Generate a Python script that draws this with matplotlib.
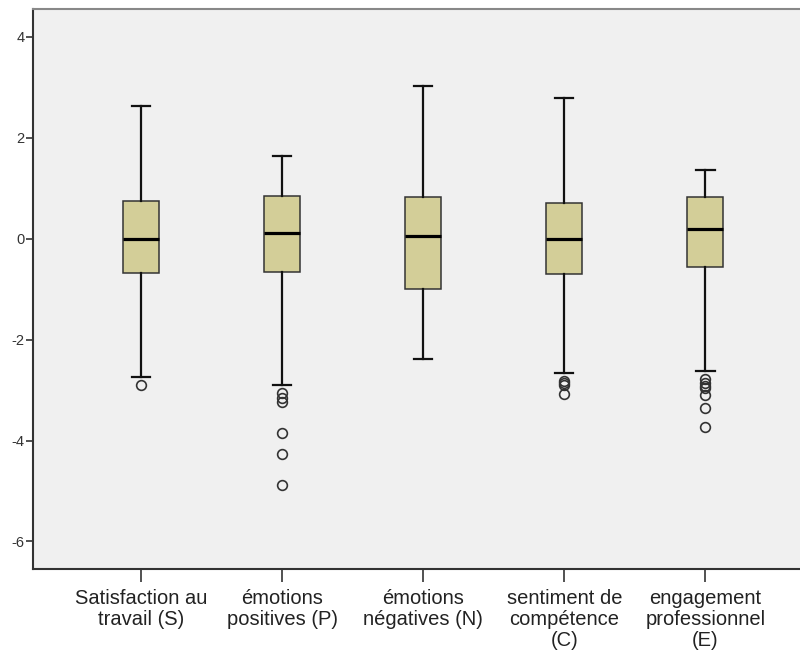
import matplotlib
matplotlib.use("Agg")
import matplotlib.pyplot as plt

categories = ["Satisfaction au\ntravail (S)", "émotions\npositives (P)", "émotions\nnégatives (N)",
              "sentiment de\ncompétence\n(C)", "engagement\nprofessionnel\n(E)"]
whislo = [-2.75, -2.89, -2.38, -2.67, -2.62]
q1 = [-0.67, -0.65, -0.99, -0.69, -0.56]
med = [0.00, 0.12, 0.05, 0.00, 0.20]
q3 = [0.75, 0.85, 0.82, 0.71, 0.82]
whishi = [2.63, 1.64, 3.03, 2.79, 1.37]
fliers = [
    [-2.89],
    [-3.05, -3.15, -3.23, -3.86, -4.26, -4.89],
    [],
    [-2.83, -2.86, -2.90, -3.07],
    [-2.79, -2.86, -2.92, -2.95, -3.09, -3.35, -3.74],
]
yticks = [-6, -4, -2, 0, 2, 4]

plt.rcParams['font.family'] = ['Liberation Sans', 'DejaVu Sans']

fig = plt.figure(figsize=(8.0, 6.52), dpi=100)
ax = fig.add_axes([0.041, 0.127, 0.959, 0.859])
ax.set_facecolor("#F0F0F0")

stats = []
for i in range(len(categories)):
    stats.append(dict(whislo=whislo[i], q1=q1[i], med=med[i], q3=q3[i],
                      whishi=whishi[i], fliers=fliers[i]))

ax.bxp(stats, positions=range(1, 6), widths=0.255, capwidths=0.13, patch_artist=True,
       boxprops=dict(facecolor="#D3CE98", edgecolor="#333333", linewidth=1.1),
       medianprops=dict(color="black", linewidth=2.3),
       whiskerprops=dict(color="#111111", linewidth=1.6),
       capprops=dict(color="#111111", linewidth=1.6),
       flierprops=dict(marker="o", markersize=7, markerfacecolor="none",
                       markeredgecolor="#333333", markeredgewidth=1.2))

ax.set_xlim(0.234, 5.67)
ax.set_ylim(-6.55, 4.55)
ax.set_yticks(yticks)
ax.set_yticklabels([str(t) for t in yticks], fontsize=10.5, color="#333333")
ax.set_xticks(range(1, 6))
ax.set_xticklabels(categories, fontsize=14.5, color="#222222", linespacing=1.15)
ax.tick_params(axis="x", length=9, width=1.2, color="#333333", pad=5)
ax.tick_params(axis="y", length=5, width=1.2, color="#333333", pad=1)

ax.spines["right"].set_visible(False)
ax.spines["top"].set_color("#888888")
ax.spines["top"].set_linewidth(1.5)
ax.spines["left"].set_color("#333333")
ax.spines["left"].set_linewidth(1.5)
ax.spines["bottom"].set_color("#333333")
ax.spines["bottom"].set_linewidth(1.5)

fig.savefig("out.png", dpi=100, facecolor="white")
